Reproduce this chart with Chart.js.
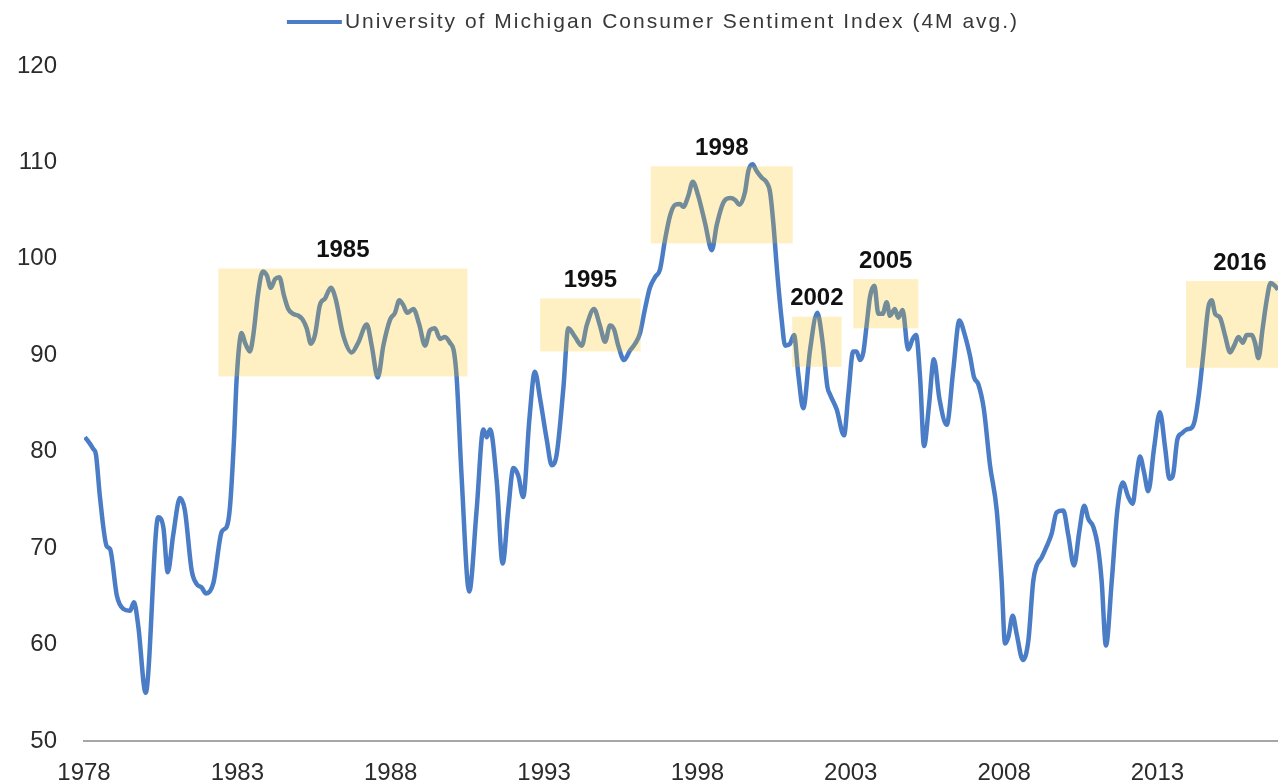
<!DOCTYPE html>
<html>
<head>
<meta charset="utf-8">
<title>University of Michigan Consumer Sentiment Index</title>
<script src="https://cdn.jsdelivr.net/npm/chart.js@4.4.1/dist/chart.umd.min.js"></script>
<style>
  html, body { margin: 0; padding: 0; background: #ffffff; }
  #wrap { width: 1278px; height: 784px; }
</style>
</head>
<body>
<div id="wrap"><canvas id="chart" width="1278" height="784"></canvas></div>
<script>
// Series name and data (decimal year, index value)
var seriesName = 'University of Michigan Consumer Sentiment Index (4M avg.)';

var years = [
  1978.03, 1978.11, 1978.30, 1978.39, 1978.52, 1978.74, 1978.85, 1979.07, 1979.28, 1979.50,
  1979.63, 1979.77, 1980.01, 1980.42, 1980.59, 1980.73, 1980.91, 1981.13, 1981.29, 1981.51,
  1981.67, 1981.84, 1981.98, 1982.22, 1982.49, 1982.65, 1982.76, 1982.89, 1982.98, 1983.14,
  1983.25, 1983.41, 1983.52, 1983.68, 1983.83, 1983.96, 1984.09, 1984.23, 1984.37, 1984.52,
  1984.66, 1984.82, 1984.99, 1985.13, 1985.26, 1985.40, 1985.53, 1985.69, 1985.86, 1986.05,
  1986.20, 1986.45, 1986.73, 1986.94, 1987.22, 1987.38, 1987.58, 1987.76, 1987.98, 1988.14,
  1988.28, 1988.41, 1988.54, 1988.74, 1988.93, 1989.12, 1989.28, 1989.44, 1989.61, 1989.77,
  1989.93, 1990.06, 1990.15, 1990.31, 1990.56, 1990.80, 1991.02, 1991.13, 1991.24, 1991.46,
  1991.65, 1991.83, 1992.00, 1992.16, 1992.32, 1992.52, 1992.70, 1992.87, 1993.09, 1993.25,
  1993.41, 1993.63, 1993.79, 1994.01, 1994.23, 1994.39, 1994.63, 1994.82, 1994.99, 1995.15,
  1995.28, 1995.42, 1995.61, 1995.80, 1995.97, 1996.13, 1996.29, 1996.45, 1996.62, 1996.78,
  1996.94, 1997.11, 1997.27, 1997.43, 1997.54, 1997.70, 1997.85, 1998.03, 1998.25, 1998.47,
  1998.63, 1998.84, 1999.06, 1999.23, 1999.37, 1999.55, 1999.66, 1999.80, 1999.93, 2000.10,
  2000.24, 2000.37, 2000.47, 2000.61, 2000.75, 2000.86, 2001.02, 2001.15, 2001.29, 2001.45,
  2001.67, 2001.91, 2002.08, 2002.24, 2002.33, 2002.54, 2002.78, 2002.92, 2003.08, 2003.19,
  2003.30, 2003.41, 2003.52, 2003.63, 2003.77, 2003.90, 2004.04, 2004.17, 2004.28, 2004.44,
  2004.55, 2004.69, 2004.87, 2005.02, 2005.13, 2005.26, 2005.39, 2005.55, 2005.71, 2005.89,
  2006.13, 2006.34, 2006.54, 2006.72, 2006.89, 2007.02, 2007.16, 2007.34, 2007.54, 2007.76,
  2007.92, 2008.03, 2008.14, 2008.28, 2008.41, 2008.61, 2008.79, 2008.95, 2009.06, 2009.22,
  2009.39, 2009.55, 2009.71, 2009.93, 2010.09, 2010.28, 2010.45, 2010.61, 2010.75, 2010.91,
  2011.07, 2011.18, 2011.32, 2011.51, 2011.69, 2011.87, 2012.05, 2012.19, 2012.32, 2012.43,
  2012.56, 2012.70, 2012.89, 2013.08, 2013.25, 2013.39, 2013.50, 2013.65, 2013.79, 2013.95,
  2014.12, 2014.22, 2014.36, 2014.50, 2014.66, 2014.77, 2014.88, 2015.04, 2015.20, 2015.37,
  2015.50, 2015.64, 2015.78, 2015.91, 2016.07, 2016.18, 2016.29, 2016.43, 2016.56, 2016.69,
  2016.83, 2016.93
];

var sentiment = [
  81.5, 81.2, 80.3, 79.7, 75.3, 70.2, 69.9, 65.1, 63.7, 63.5,
  64.4, 61.9, 55.0, 73.2, 72.1, 67.5, 71.4, 75.2, 73.9, 67.7,
  66.3, 65.9, 65.3, 66.4, 71.7, 72.2, 74.3, 81.2, 87.7, 92.3,
  91.3, 90.4, 92.1, 96.5, 98.7, 98.3, 97.0, 97.9, 98.1, 96.2,
  94.8, 94.3, 94.1, 93.7, 92.8, 91.2, 92.1, 95.2, 95.9, 97.0,
  95.9, 92.1, 90.3, 91.3, 93.2, 91.0, 87.7, 91.0, 93.7, 94.4,
  95.7, 95.2, 94.4, 94.8, 93.2, 91.0, 92.6, 92.8, 91.7, 91.9,
  91.3, 90.4, 87.7, 77.5, 65.5, 73.9, 82.3, 81.5, 82.3, 76.8,
  68.4, 73.9, 78.3, 77.5, 75.3, 83.3, 88.3, 85.5, 81.2, 78.6,
  79.7, 86.6, 92.8, 91.9, 91.0, 93.1, 94.8, 93.1, 91.4, 93.1,
  92.7, 91.0, 89.5, 90.5, 91.2, 92.3, 94.8, 97.0, 98.1, 98.9,
  101.9, 104.5, 105.6, 105.7, 105.4, 106.5, 108.0, 106.5, 103.7, 100.9,
  103.5, 105.8, 106.3, 106.1, 105.6, 106.9, 109.1, 109.8, 109.1, 108.4,
  108.0, 106.9, 103.9, 98.3, 93.6, 91.0, 91.2, 92.1, 88.0, 84.5,
  90.5, 94.4, 91.4, 86.7, 85.9, 84.4, 81.7, 85.9, 90.4, 90.4,
  89.5, 90.3, 93.2, 96.1, 97.2, 94.3, 94.3, 95.5, 94.1, 94.8,
  93.9, 94.7, 90.6, 91.7, 92.1, 87.7, 80.6, 84.8, 89.6, 85.5,
  82.8, 88.4, 93.6, 92.1, 89.9, 87.7, 87.0, 84.4, 78.6, 73.9,
  66.6, 60.1, 60.8, 63.0, 61.1, 58.4, 60.4, 66.6, 68.2, 69.0,
  70.2, 71.5, 73.7, 73.9, 71.4, 68.2, 71.7, 74.4, 73.0, 72.2,
  69.9, 66.6, 59.9, 66.6, 73.9, 76.8, 75.3, 74.6, 77.5, 79.5,
  77.9, 75.9, 80.4, 84.1, 80.4, 77.2, 77.5, 81.3, 81.9, 82.3,
  82.5, 83.3, 86.2, 90.3, 95.0, 95.7, 94.3, 93.9, 92.1, 90.3,
  91.0, 91.9, 91.3, 92.1, 92.1, 91.3, 89.7, 92.8, 95.7, 97.5,
  97.2, 96.8
];

var yearTicks = [1978, 1983, 1988, 1993, 1998, 2003, 2008, 2013];

// Highlighted periods (shaded boxes with a year label on top)
var bandLabels = ['1985', '1995', '1998', '2002', '2005', '2016'];
var bandStart  = [1982.38, 1992.87, 1996.48, 2001.09, 2003.08, 2013.93];
var bandEnd    = [1990.50, 1996.15, 2001.11, 2002.70, 2005.20, 2017.45];
var bandLow    = [87.8, 90.4, 101.6, 88.8, 92.8, 88.7];
var bandHigh   = [99.0, 95.9, 109.6, 94.0, 97.9, 97.7];

var lineColor = '#4a7dc6';
var fontFamily = '"Liberation Sans", Arial, sans-serif';

// Shaded boxes go on top of the line, like the original
var highlightBands = {
    id: 'highlightBands',
    afterDatasetsDraw: function(chart) {
        var ctx = chart.ctx;
        var xs = chart.scales.x, ys = chart.scales.y;
        var area = chart.chartArea;
        ctx.save();
        ctx.beginPath();
        ctx.rect(area.left, 0, area.right - area.left, chart.height);
        ctx.clip();
        for (var i = 0; i < bandLabels.length; i++) {
            var x0 = xs.getPixelForValue(bandStart[i]);
            var x1 = xs.getPixelForValue(bandEnd[i]);
            var y0 = ys.getPixelForValue(bandHigh[i]);
            var y1 = ys.getPixelForValue(bandLow[i]);
            ctx.fillStyle = 'rgba(255, 192, 0, 0.23)';
            ctx.fillRect(x0, y0, x1 - x0, y1 - y0);
        }
        ctx.restore();

        ctx.save();
        ctx.font = 'bold 24px ' + fontFamily;
        ctx.fillStyle = '#111111';
        ctx.textAlign = 'center';
        ctx.textBaseline = 'middle';
        for (var j = 0; j < bandLabels.length; j++) {
            var cx = (xs.getPixelForValue(bandStart[j]) + xs.getPixelForValue(bandEnd[j])) / 2;
            var top = ys.getPixelForValue(bandHigh[j]);
            ctx.fillText(bandLabels[j], cx, top - 18);
        }
        ctx.restore();
    }
};

// Simple legend: short line then the series name
var legendLine = {
    id: 'legendLine',
    afterDraw: function(chart) {
        var ctx = chart.ctx;
        ctx.save();
        var size = 21;
        ctx.font = size + 'px ' + fontFamily;
        if ('letterSpacing' in ctx) {
            ctx.letterSpacing = '2px';
        } else {
            size = 25;
            ctx.font = size + 'px ' + fontFamily;
        }
        var textW = ctx.measureText(seriesName).width;
        var lineW = 55, gap = 3;
        var x0 = 653 - (lineW + gap + textW) / 2;
        ctx.strokeStyle = lineColor;
        ctx.lineWidth = 4;
        ctx.beginPath();
        ctx.moveTo(x0, 22);
        ctx.lineTo(x0 + lineW, 22);
        ctx.stroke();
        ctx.fillStyle = '#383838';
        ctx.textBaseline = 'alphabetic';
        ctx.fillText(seriesName, x0 + lineW + gap, 28);
        ctx.restore();
    }
};

var points = years.map(function(yr, i) { return {x: yr, y: sentiment[i]}; });

var ctx = document.getElementById('chart').getContext('2d');
var chart = new Chart(ctx, {
    type: 'line',
    data: {
        datasets: [{
            label: seriesName,
            data: points,
            borderColor: lineColor,
            borderWidth: 4.5,
            pointRadius: 0,
            fill: false,
            cubicInterpolationMode: 'monotone'
        }]
    },
    options: {
        responsive: false,
        devicePixelRatio: 1,
        animation: false,
        layout: { padding: { top: 66, right: 0, bottom: 0, left: 0 } },
        plugins: {
            legend: { display: false },
            tooltip: { enabled: false }
        },
        scales: {
            x: {
                type: 'linear',
                min: 1978,
                max: 2016.93,
                grid: { display: false, drawTicks: false },
                border: { display: true, color: '#a6a6a6', width: 2 },
                afterBuildTicks: function(axis) {
                    axis.ticks = yearTicks.map(function(v) { return {value: v}; });
                },
                afterFit: function(axis) { axis.height = 43; },
                ticks: {
                    autoSkip: false,
                    maxRotation: 0,
                    padding: 18,
                    color: '#2b2b2b',
                    font: { family: fontFamily, size: 24 },
                    callback: function(v) { return String(v); }
                }
            },
            y: {
                min: 50,
                max: 120,
                grid: { display: false, drawTicks: false },
                border: { display: false },
                afterFit: function(axis) { axis.width = 84; },
                ticks: {
                    stepSize: 10,
                    padding: 27,
                    color: '#2b2b2b',
                    font: { family: fontFamily, size: 24 }
                }
            }
        }
    },
    plugins: [highlightBands, legendLine]
});
</script>
</body>
</html>
